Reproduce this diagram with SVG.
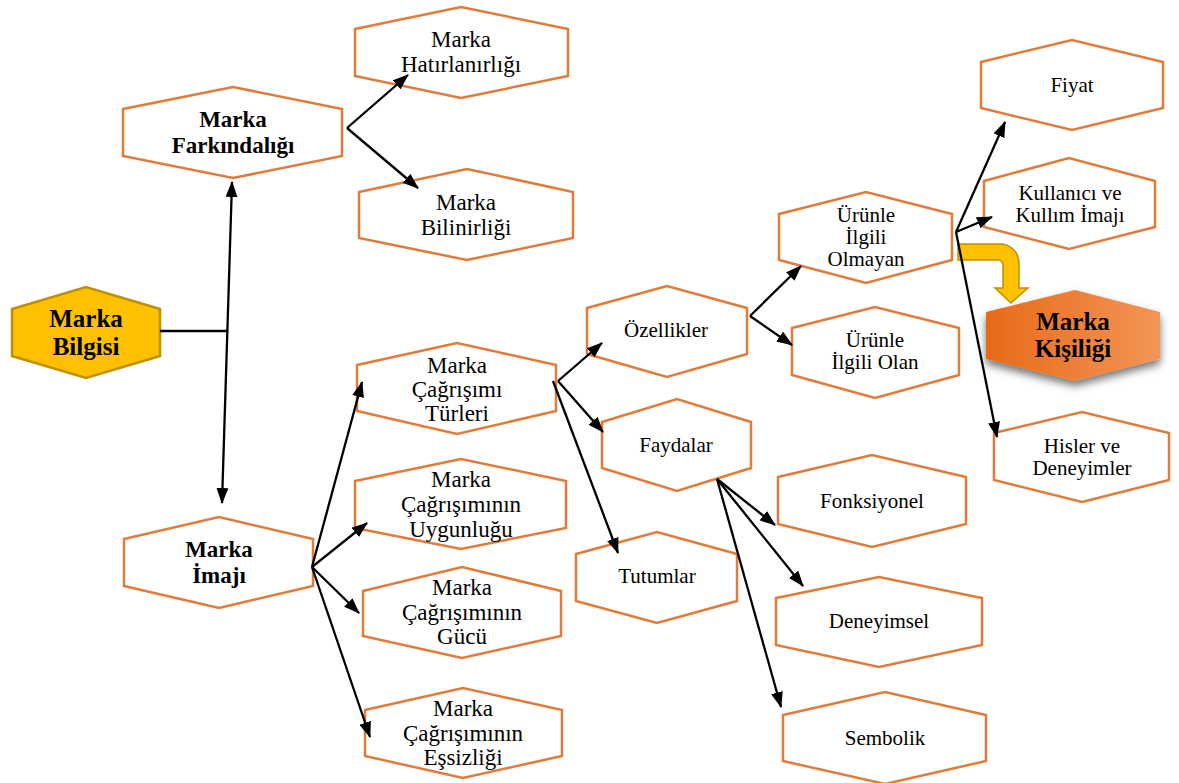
<svg xmlns="http://www.w3.org/2000/svg" width="1179" height="783" viewBox="0 0 1179 783">
  <defs>
    <style>
      .hex { fill: #ffffff; stroke: #E07B39; stroke-width: 2.5; }
      .t { font-family: "Liberation Serif", "Times New Roman", serif; fill: #000; text-anchor: middle; }
      .s21 { font-family: "Liberation Serif", "Times New Roman", serif; font-size: 21px; }
      .s23 { font-family: "Liberation Serif", "Times New Roman", serif; font-size: 23px; }
      .b { font-weight: bold; }
      .edge { fill: none; stroke: #000; stroke-width: 2.3; }
    </style>
    <marker id="arrow" viewBox="0 0 16 12" refX="15" refY="6" markerWidth="16" markerHeight="12" markerUnits="userSpaceOnUse" orient="auto-start-reverse">
      <path d="M0,0 L16,6 L0,12 z" fill="#000"/>
    </marker>
    <linearGradient id="orangeGrad" x1="0" y1="0" x2="1" y2="0">
      <stop offset="0" stop-color="#E86A18"/>
      <stop offset="1" stop-color="#F29556"/>
    </linearGradient>
    <filter id="shadow" x="-20%" y="-20%" width="140%" height="160%">
      <feDropShadow dx="0" dy="5" stdDeviation="4" flood-color="#000" flood-opacity="0.55"/>
    </filter>
  </defs>

  <!-- bent yellow arrow toward Marka Kişiliği -->
  <path id="bent-arrow" d="M958,244 L1000,244 A19,19 0 0 1 1019,263 L1019,288 L1028,288 L1011,303 L995,288 L1003,288 L1003,265 A5,5 0 0 0 998,260 L958,260 Z" fill="#FFC000" stroke="#BF9000" stroke-width="1.5"/>

  <!-- nodes -->
  <g id="marka-bilgisi">
    <polygon points="12,309 86,287 160,309 160,356 86,378 12,356" fill="#FFC000" stroke="#BF9000" stroke-width="2.5"/>
    <text class="t b" font-size="25" x="86" y="327">Marka</text>
    <text class="t b" font-size="25" x="86" y="355">Bilgisi</text>
  </g>

  <g id="marka-farkindaligi">
    <polygon class="hex" points="123,109 233,87 342,109 342,156 233,178 123,156"/>
    <text class="t b s23" x="233" y="127">Marka</text>
    <text class="t b s23" x="233" y="153">Farkındalığı</text>
  </g>

  <g id="marka-hatirlanirligi">
    <polygon class="hex" points="355,29 461,7 568,29 568,76 461,98 355,76"/>
    <text class="t s23" x="461" y="47">Marka</text>
    <text class="t s23" x="461" y="72">Hatırlanırlığı</text>
  </g>

  <g id="marka-bilinirligi">
    <polygon class="hex" points="359,192 467,169 573,192 573,238 467,260 359,238"/>
    <text class="t s23" x="466" y="210">Marka</text>
    <text class="t s23" x="466" y="235">Bilinirliği</text>
  </g>

  <g id="marka-imaji">
    <polygon class="hex" points="124,539 219,517 313,539 313,586 219,608 124,586"/>
    <text class="t b s23" x="219" y="557">Marka</text>
    <text class="t b s23" x="219" y="583">İmajı</text>
  </g>

  <g id="cagrisim-turleri">
    <polygon class="hex" points="357,365 457,343 556,365 556,411 457,434 357,411"/>
    <text class="t s23" x="457" y="373">Marka</text>
    <text class="t s23" x="457" y="397">Çağrışımı</text>
    <text class="t s23" x="457" y="421">Türleri</text>
  </g>

  <g id="cagrisim-uygunlugu">
    <polygon class="hex" points="355,481 461,459 566,481 566,528 461,549 355,528"/>
    <text class="t s23" x="461" y="487">Marka</text>
    <text class="t s23" x="461" y="512">Çağrışımının</text>
    <text class="t s23" x="461" y="537">Uygunluğu</text>
  </g>

  <g id="cagrisim-gucu">
    <polygon class="hex" points="363,591 462,567 561,591 561,636 462,658 363,636"/>
    <text class="t s23" x="462" y="595">Marka</text>
    <text class="t s23" x="462" y="620">Çağrışımının</text>
    <text class="t s23" x="462" y="644">Gücü</text>
  </g>

  <g id="cagrisim-essizligi">
    <polygon class="hex" points="365,710 463,688 562,710 562,756 463,778 365,756"/>
    <text class="t s23" x="463" y="716">Marka</text>
    <text class="t s23" x="463" y="741">Çağrışımının</text>
    <text class="t s23" x="463" y="765">Eşsizliği</text>
  </g>

  <g id="ozellikler">
    <polygon class="hex" points="587,308 667,286 747,308 747,354 667,377 587,354"/>
    <text class="t s21" x="666" y="337">Özellikler</text>
  </g>

  <g id="faydalar">
    <polygon class="hex" points="602,422 677,399 751,422 751,468 677,491 602,468"/>
    <text class="t s21" x="676" y="452">Faydalar</text>
  </g>

  <g id="tutumlar">
    <polygon class="hex" points="576,554 657,532 737,554 737,601 657,623 576,601"/>
    <text class="t s21" x="657" y="583">Tutumlar</text>
  </g>

  <g id="urunle-ilgili-olmayan">
    <polygon class="hex" points="779,214 866,192 952,214 952,260 866,283 779,260"/>
    <text class="t s21" x="866" y="222">Ürünle</text>
    <text class="t s21" x="866" y="244">İlgili</text>
    <text class="t s21" x="866" y="266">Olmayan</text>
  </g>

  <g id="urunle-ilgili-olan">
    <polygon class="hex" points="792,328 875,307 959,328 959,375 875,398 792,375"/>
    <text class="t s21" x="875" y="347">Ürünle</text>
    <text class="t s21" x="875" y="369">İlgili Olan</text>
  </g>

  <g id="fonksiyonel">
    <polygon class="hex" points="778,477 872,455 966,477 966,524 872,547 778,524"/>
    <text class="t s21" x="872" y="508">Fonksiyonel</text>
  </g>

  <g id="deneyimsel">
    <polygon class="hex" points="776,598 879,577 982,598 982,645 879,667 776,645"/>
    <text class="t s21" x="879" y="628">Deneyimsel</text>
  </g>

  <g id="sembolik">
    <polygon class="hex" points="783,715 885,692 986,715 986,761 885,784 783,761"/>
    <text class="t s21" x="885" y="745">Sembolik</text>
  </g>

  <g id="fiyat">
    <polygon class="hex" points="981,62 1072,40 1163,62 1163,108 1072,130 981,108"/>
    <text class="t s21" x="1072" y="92">Fiyat</text>
  </g>

  <g id="kullanici-imaji">
    <polygon class="hex" points="984,181 1069,158 1155,181 1155,227 1069,249 984,227"/>
    <text class="t s21" x="1070" y="200">Kullanıcı ve</text>
    <text class="t s21" x="1070" y="222">Kullım İmajı</text>
  </g>

  <g id="hisler-deneyimler">
    <polygon class="hex" points="994,433 1082,412 1169,433 1169,480 1082,502 994,480"/>
    <text class="t s21" x="1082" y="453">Hisler ve</text>
    <text class="t s21" x="1082" y="475">Deneyimler</text>
  </g>

  <g id="marka-kisiligi">
    <polygon points="986,312 1075,290 1160,312 1160,359 1075,381 986,359" fill="url(#orangeGrad)" filter="url(#shadow)"/>
    <text class="t b" font-size="25" x="1073" y="330">Marka</text>
    <text class="t b" font-size="25" x="1073" y="357">Kişiliği</text>
  </g>

  <!-- connectors -->
  <g id="connectors">
    <line class="edge" x1="160" y1="331" x2="227" y2="331"/>
    <line class="edge" x1="222" y1="503" x2="232" y2="182" marker-start="url(#arrow)" marker-end="url(#arrow)"/>

    <line class="edge" x1="347" y1="128" x2="408" y2="75" marker-end="url(#arrow)"/>
    <line class="edge" x1="347" y1="128" x2="418" y2="188" marker-end="url(#arrow)"/>

    <line class="edge" x1="312" y1="567" x2="362" y2="382" marker-end="url(#arrow)"/>
    <line class="edge" x1="312" y1="567" x2="367" y2="523" marker-end="url(#arrow)"/>
    <line class="edge" x1="312" y1="567" x2="359" y2="613" marker-end="url(#arrow)"/>
    <line class="edge" x1="312" y1="567" x2="370" y2="737" marker-end="url(#arrow)"/>

    <line class="edge" x1="558" y1="381" x2="602" y2="343" marker-end="url(#arrow)"/>
    <line class="edge" x1="558" y1="381" x2="603" y2="432" marker-end="url(#arrow)"/>
    <line class="edge" x1="553" y1="381" x2="618" y2="553" marker-end="url(#arrow)"/>

    <line class="edge" x1="750" y1="316" x2="801" y2="266" marker-end="url(#arrow)"/>
    <line class="edge" x1="750" y1="316" x2="792" y2="345" marker-end="url(#arrow)"/>

    <line class="edge" x1="717" y1="479" x2="775" y2="525" marker-end="url(#arrow)"/>
    <line class="edge" x1="717" y1="479" x2="803" y2="586" marker-end="url(#arrow)"/>
    <line class="edge" x1="717" y1="479" x2="781" y2="707" marker-end="url(#arrow)"/>

    <line class="edge" x1="956" y1="232" x2="1005" y2="122" marker-end="url(#arrow)"/>
    <line class="edge" x1="956" y1="232" x2="992" y2="217" marker-end="url(#arrow)"/>
    <line class="edge" x1="956" y1="232" x2="997" y2="437" marker-end="url(#arrow)"/>
  </g>
</svg>
